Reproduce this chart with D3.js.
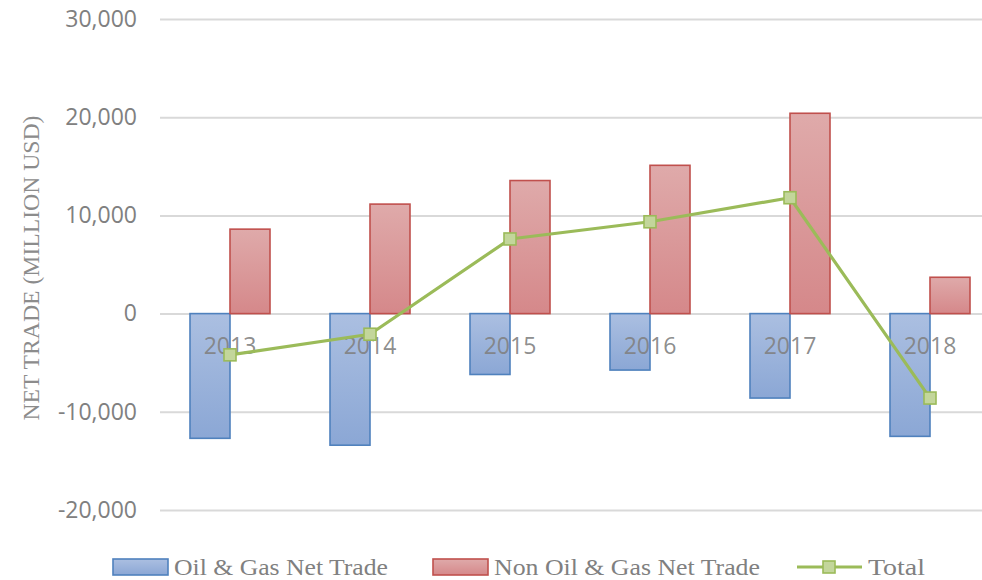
<!DOCTYPE html>
<html><head><meta charset="utf-8">
<script src="https://cdn.jsdelivr.net/npm/d3@7"></script>
<style>html,body{margin:0;padding:0;background:#fff;overflow:hidden}</style>
</head><body>
<svg id="chart" width="982" height="580"></svg>
<script>
const years = ["2013","2014","2015","2016","2017","2018"];
const oilGas = [-12700, -13400, -6200, -5750, -8600, -12500];
const nonOilGas = [8600, 11150, 13550, 15100, 20400, 3700];
const total = [-4200, -2100, 7600, 9350, 11800, -8600];
const yTicks = [-20000, -10000, 0, 10000, 20000, 30000];
const seriesNames = ["Oil & Gas Net Trade", "Non Oil & Gas Net Trade", "Total"];
const yTitle = "NET TRADE (MILLION USD)";

const svg = d3.select("#chart");
const defs = svg.append("defs");
function grad(id, top, bottom){
  const g = defs.append("linearGradient").attr("id", id).attr("x1",0).attr("y1",0).attr("x2",0).attr("y2",1);
  g.append("stop").attr("offset","0%").attr("stop-color", top);
  g.append("stop").attr("offset","100%").attr("stop-color", bottom);
}
grad("gBlue", "#abbfe1", "#8ba7d5");
grad("gRed", "#dfaaaa", "#d5888a");

const y = d3.scaleLinear().domain([-20000, 30000]).range([510, 19]);
const x = d3.scaleBand().domain(years).range([160, 1000]).paddingInner(60/140).paddingOuter(30/140);
const xs = d3.scaleBand().domain(["oil","non"]).range([0, x.bandwidth()]);

// gridlines
const fmt = d3.format(",");
const yAxis = d3.axisLeft(y).tickValues(yTicks).tickSize(-(1000-160)).tickFormat(d => fmt(d).replace("\u2212","-"));
const ga = svg.append("g").attr("transform","translate(160,0)").call(yAxis);
ga.select(".domain").remove();
ga.selectAll(".tick line").attr("stroke","#d9d9d9").attr("stroke-width",2);
ga.selectAll(".tick text").attr("x",-23).attr("fill","#808080")
  .style("font-family","'Open Sans', sans-serif").style("font-size","23px");

// bars
const gBars = svg.append("g");
gBars.selectAll("rect.oil").data(years).join("rect").attr("class","oil")
  .attr("x", (d)=> x(d)+xs("oil"))
  .attr("width", xs.bandwidth())
  .attr("y", (d,i)=> y(Math.max(0, oilGas[i])))
  .attr("height", (d,i)=> Math.abs(y(oilGas[i]) - y(0)))
  .attr("fill","url(#gBlue)").attr("stroke","#4f81bd").attr("stroke-width",1.6);
gBars.selectAll("rect.non").data(years).join("rect").attr("class","non")
  .attr("x", (d)=> x(d)+xs("non"))
  .attr("width", xs.bandwidth())
  .attr("y", (d,i)=> y(Math.max(0, nonOilGas[i])))
  .attr("height", (d,i)=> Math.abs(y(nonOilGas[i]) - y(0)))
  .attr("fill","url(#gRed)").attr("stroke","#c0504d").attr("stroke-width",1.6);

// category labels
const xAxis = d3.axisBottom(x).tickSize(0).tickPadding(0);
const gx = svg.append("g").attr("transform", `translate(0,${y(0)})`).call(xAxis);
gx.select(".domain").remove();
gx.selectAll(".tick text").attr("y", 32).attr("dy","0.35em").attr("fill","#808080").attr("fill-opacity",0.9)
  .style("font-family","'Open Sans', sans-serif").style("font-size","23px");

// total line
const cx = (d)=> x(d) + x.bandwidth()/2;
const line = d3.line().x((d,i)=> cx(years[i])).y((d)=> y(d));
svg.append("path").datum(total).attr("d", line).attr("fill","none")
  .attr("stroke","#9bbb59").attr("stroke-width",3.2).attr("stroke-linejoin","round");
svg.selectAll("rect.mk").data(total).join("rect").attr("class","mk")
  .attr("x",(d,i)=> cx(years[i]) - 6).attr("y", d=> y(d)-6)
  .attr("width",12).attr("height",12)
  .attr("fill","#c3d69b").attr("stroke","#9bbb59").attr("stroke-width",1.6);

// y title
svg.append("text").attr("transform","translate(31,268) rotate(-90)")
  .attr("text-anchor","middle").attr("dominant-baseline","central")
  .attr("fill","#8c8c8c").style("font-family","'Liberation Serif', serif").style("font-size","23px")
  .attr("textLength",305).attr("lengthAdjust","spacingAndGlyphs")
  .text(yTitle);

// legend
const lg = svg.append("g").style("font-family","'Liberation Serif', serif").style("font-size","23px");
const ly = 567;
lg.append("rect").attr("x",113).attr("y",ly-8).attr("width",55).attr("height",16)
  .attr("fill","url(#gBlue)").attr("stroke","#4f81bd").attr("stroke-width",1.6);
lg.append("text").attr("x",174).attr("y",ly).attr("dominant-baseline","central").attr("fill","#808080")
  .attr("textLength",214).attr("lengthAdjust","spacingAndGlyphs").text(seriesNames[0]);
lg.append("rect").attr("x",433).attr("y",ly-8).attr("width",55).attr("height",16)
  .attr("fill","url(#gRed)").attr("stroke","#c0504d").attr("stroke-width",1.6);
lg.append("text").attr("x",494).attr("y",ly).attr("dominant-baseline","central").attr("fill","#808080")
  .attr("textLength",266).attr("lengthAdjust","spacingAndGlyphs").text(seriesNames[1]);
lg.append("line").attr("x1",797).attr("x2",862).attr("y1",ly).attr("y2",ly)
  .attr("stroke","#9bbb59").attr("stroke-width",3.2);
lg.append("rect").attr("x",823).attr("y",ly-6).attr("width",12).attr("height",12)
  .attr("fill","#c3d69b").attr("stroke","#9bbb59").attr("stroke-width",1.6);
lg.append("text").attr("x",868).attr("y",ly).attr("dominant-baseline","central").attr("fill","#808080")
  .attr("textLength",57).attr("lengthAdjust","spacingAndGlyphs").text(seriesNames[2]);
</script>
</body></html>
